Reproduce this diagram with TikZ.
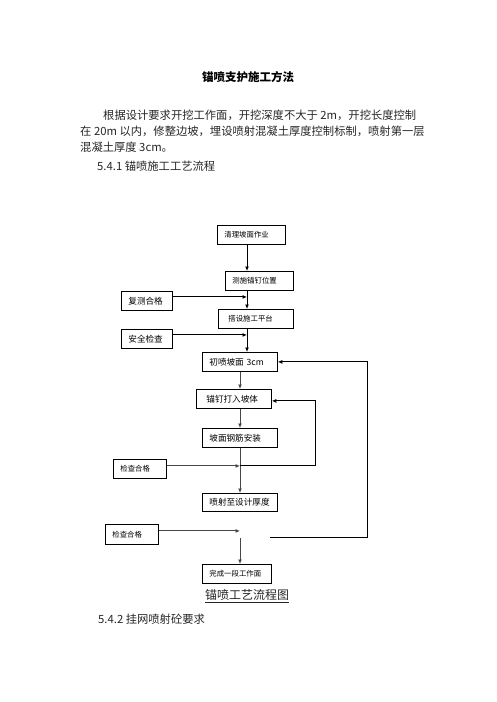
\documentclass[tikz,border=0pt]{standalone}
\usepackage{fontspec}
\setmainfont{Noto Sans CJK SC}
\usetikzlibrary{arrows.meta}

\begin{document}
\begin{tikzpicture}[
  x=1pt, y=-1pt,
  box/.style={draw,line width=0.8pt,anchor=north west,inner xsep=7pt,inner ysep=0pt,
    minimum height=19pt,align=left},
  sm/.style={font=\fontsize{7.4}{8}\selectfont},
  md/.style={font=\fontsize{8.6}{10}\selectfont},
  txt/.style={anchor=west,inner sep=0pt,text=black!85,font=\fontsize{11.3}{14}\selectfont},
  arr/.style={-{Latex[length=4.5pt,width=4pt]},line width=1pt},
  garr/.style={arr,draw=black!72}
]
\useasboundingbox (0,0) rectangle (496,702);

% page text
\node[font=\bfseries\fontsize{11.5}{14}\selectfont] (title) at (248,77) {锚喷支护施工方法};
\node[txt] (p1) at (103,115) {根据设计要求开挖工作面，开挖深度不大于 2m，开挖长度控制};
\node[txt] (p2) at (80,131) {在 20m 以内，修整边坡，埋设喷射混凝土厚度控制标制，喷射第一层};
\node[txt] (p3) at (80,147) {混凝土厚度 3cm。};
\node[txt] (s1) at (97,166) {5.4.1 锚喷施工工艺流程};

% flow boxes
\node[box,sm,text width=54pt] (clean) at (217,225) {清理坡面作业};
\node[box,sm,text width=54pt] (mark) at (225,271) {测施锚钉位置};
\node[box,md,text width=37pt] (recheck) at (121,291) {复测合格};
\node[box,sm,text width=61pt] (plat) at (218,309) {\hspace{3pt}搭设施工平台};
\node[box,md,text width=37pt] (safe) at (121,329) {安全检查};
\node[box,md,text width=61pt] (spray1) at (202,352) {初喷坡面 3cm};
\node[box,md,text width=61pt] (nail) at (196,389) {\hspace{3pt}锚钉打入坡体};
\node[box,md,text width=61pt] (mesh) at (202,428) {坡面钢筋安装};
\node[box,sm,text width=39pt] (chk1) at (113,459) {检查合格};
\node[box,md,text width=61pt,minimum height=18pt] (spray2) at (202,493) {喷射至设计厚度};
\node[box,sm,text width=39pt,minimum height=20pt] (chk2) at (105,524) {检查合格};
\node[box,sm,text width=55pt] (done) at (202,564) {完成一段工作面};

\coordinate (ua) at (247,0);
\coordinate (la) at (240,0);
\coordinate (j1) at (240,465);
\coordinate (gap) at (240,534);

% connectors
\draw[arr] (clean.south -| ua) -- (mark.north -| ua);
\draw[arr] (mark.south -| ua) -- (plat.north -| ua);
\draw[arr] ([yshift=4pt]recheck.east) -- ([yshift=4pt]recheck.east -| ua);
\draw[arr] (plat.south -| ua) -- (spray1.north -| ua);
\draw[arr] ([yshift=4pt]safe.east) -- ([yshift=4pt]safe.east -| ua);
\draw[garr] (spray1.south -| la) -- (nail.north -| la);
\draw[garr] (nail.south -| la) -- (mesh.north -| la);
\draw[garr] (mesh.south -| la) -- (spray2.north -| la);
\draw[garr] ([yshift=3pt]chk1.east) -- ([yshift=3pt]chk1.east -| la);
\draw[arr] (j1) -- ++(75,0) |- ([yshift=-2pt]nail.east);
\draw[garr] ([yshift=3.5pt]chk2.east) -- ([yshift=3.5pt]chk2.east -| la);
\draw[garr] ([yshift=-4pt]gap) -- (done.north -| la);
\draw[arr] ([xshift=30pt,yshift=-3.5pt]gap) -- ++(97.5,0) |- (spray1.east);

\node[font=\fontsize{12}{14}\selectfont,text=black!85] (cap) at (247,596) {\underline{锚喷工艺流程图}};
\node[txt] (s2) at (98,619) {5.4.2 挂网喷射砼要求};
\end{tikzpicture}
\end{document}
